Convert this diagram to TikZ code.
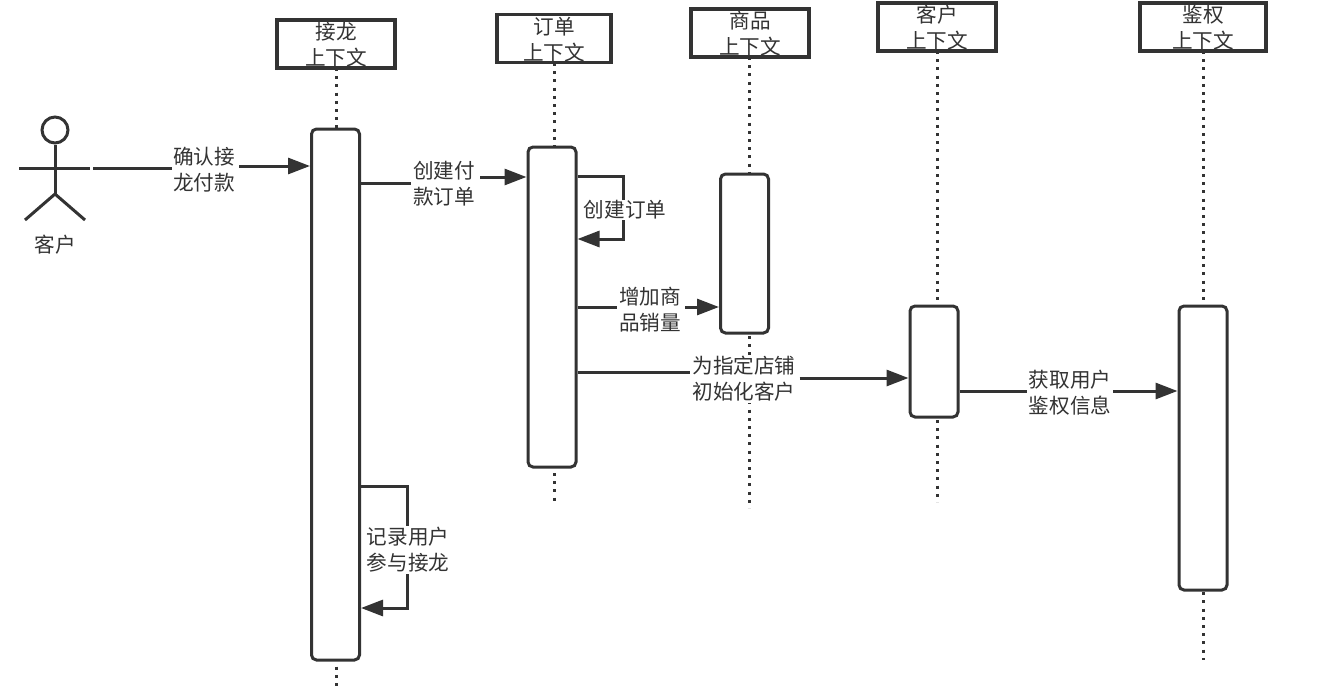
\documentclass[tikz,border=0pt]{standalone}
\usepackage{fontspec}
\setmainfont{Noto Sans CJK SC}
\usetikzlibrary{arrows.meta}
\definecolor{ink}{HTML}{333333}
\tikzset{
  x=1pt,y=-1pt,
  every node/.style={font=\fontsize{20.6}{26}\selectfont,text=ink,inner sep=0pt,align=center},
  headbox/.style={draw=ink,line width=3.2pt,fill=white,minimum height=48pt},
  actbox/.style={draw=ink,line width=3pt,fill=white,rounded corners=5pt,minimum width=48pt},
  life/.style={draw=ink,line width=3pt,dash pattern=on 3pt off 5.2pt},
  conn/.style={draw=ink,line width=3pt},
  arr/.style={conn,-{Triangle[length=22pt,width=16pt]}},
  lab/.style={fill=white,inner xsep=1pt,inner ysep=1pt},
  actorline/.style={draw=ink,line width=3pt}
}
\begin{document}
\begin{tikzpicture}
\useasboundingbox (0,0) rectangle (1325,696);
% lifeline anchors
\coordinate (la0) at (336,68);\coordinate (la1) at (336,686);
\coordinate (lb0) at (554,63);\coordinate (lb1) at (554,505);
\coordinate (lc0) at (749,57);\coordinate (lc1) at (749,508);
\coordinate (ld0) at (937,51);\coordinate (ld1) at (937,502);
\coordinate (le0) at (1203,51);\coordinate (le1) at (1203,660);
\draw[life] (la0) -- (la1);
\draw[life] (lb0) -- (lb1);
\draw[life] (lc0) -- (lc1);
\draw[life] (ld0) -- (ld1);
\draw[life] (le0) -- (le1);
% activations
\node[actbox,minimum height=531pt] (A) at (335.5,394.5) {};
\node[actbox,minimum height=320pt] (B) at (552,307) {};
\node[actbox,minimum height=159pt] (C) at (744.5,253.5) {};
\node[actbox,minimum height=111pt] (D) at (934,361.5) {};
\node[actbox,minimum height=284pt] (E) at (1203,448) {};
% header boxes
\node[headbox,minimum width=118pt] (hA) at (336,44) {};
\node[headbox,minimum width=114pt] (hB) at (554,38.5) {};
\node[headbox,minimum width=118pt] (hC) at (750,33) {};
\node[headbox,minimum width=118pt] (hD) at (937,27) {};
\node[headbox,minimum width=126pt] (hE) at (1203,27) {};
\node (thA) at (336,45) {接龙\\上下文};
\node (thB) at (554,39.5) {订单\\上下文};
\node (thC) at (750,34) {商品\\上下文};
\node (thD) at (937,28) {客户\\上下文};
\node (thE) at (1203,28) {鉴权\\上下文};
% actor
\node[draw=ink,line width=3pt,circle,minimum size=26pt] (head) at (55,130) {};
\coordinate (hip) at (55,194);
\coordinate (armL) at (19,168);
\coordinate (armR) at (90,168);
\coordinate (legL) at (25,220);
\coordinate (legR) at (85,220);
\draw[actorline] (head) -- (hip);
\draw[actorline] (armL) -- (armR);
\draw[actorline] (legL) -- (hip) -- (legR);
\node (actorlab) at (55,245) {客户};
% connector end points
\coordinate (s1) at (93,168);\coordinate (e1) at (A.west|-0,166);
\coordinate (s2) at (A.east|-0,183);\coordinate (e2) at (B.west|-0,177);
\coordinate (s3) at (B.east|-0,176);\coordinate (e3) at (B.east|-0,239);\coordinate (k3) at (623,176);
\coordinate (s4) at (B.east|-0,307);\coordinate (e4) at (C.west|-0,307);
\coordinate (s5) at (B.east|-0,372);\coordinate (e5) at (D.west|-0,378);
\coordinate (s6) at (D.east|-0,391);\coordinate (e6) at (E.west|-0,391);
\coordinate (s7) at (A.east|-0,486);\coordinate (e7) at (A.east|-0,608);\coordinate (k7) at (407,486);
% labels
\node[lab] (l1) at (204,170) {确认接\\龙付款};
\node[lab] (l2) at (444,184) {创建付\\款订单};
\node[lab] (l4) at (650,310) {增加商\\品销量};
\node[lab] (l5) at (744,379) {为指定店铺\\初始化客户};
\node[lab] (l6) at (1070,393) {获取用户\\鉴权信息};
% connectors
\draw[conn] (s1) -- (s1-|l1.west);
\draw[arr] ([xshift=3pt]e1-|l1.east) -- (e1);
\draw[conn] (s2) -- ([xshift=-1pt]s2-|l2.west);
\draw[arr] ([xshift=4pt]e2-|l2.east) -- (e2);
\draw[conn] (s4) -- ([xshift=-1pt]s4-|l4.west);
\draw[arr] ([xshift=3pt]e4-|l4.east) -- (e4);
\draw[conn] (s5) -- ([xshift=-1pt]s5-|l5.west);
\draw[arr] ([xshift=3pt]e5-|l5.east) -- (e5);
\draw[conn] (s6) -- ([xshift=-1pt]s6-|l6.west);
\draw[arr] ([xshift=1pt]e6-|l6.east) -- (e6);
\draw[arr] (s3) -- (k3) |- (e3);
\draw[arr] (s7) -- (k7) |- (e7);
\node[lab] (l3) at (625,210) {创建订单};
\node[lab] (l7) at (408,550) {记录用户\\参与接龙};
\end{tikzpicture}
\end{document}
